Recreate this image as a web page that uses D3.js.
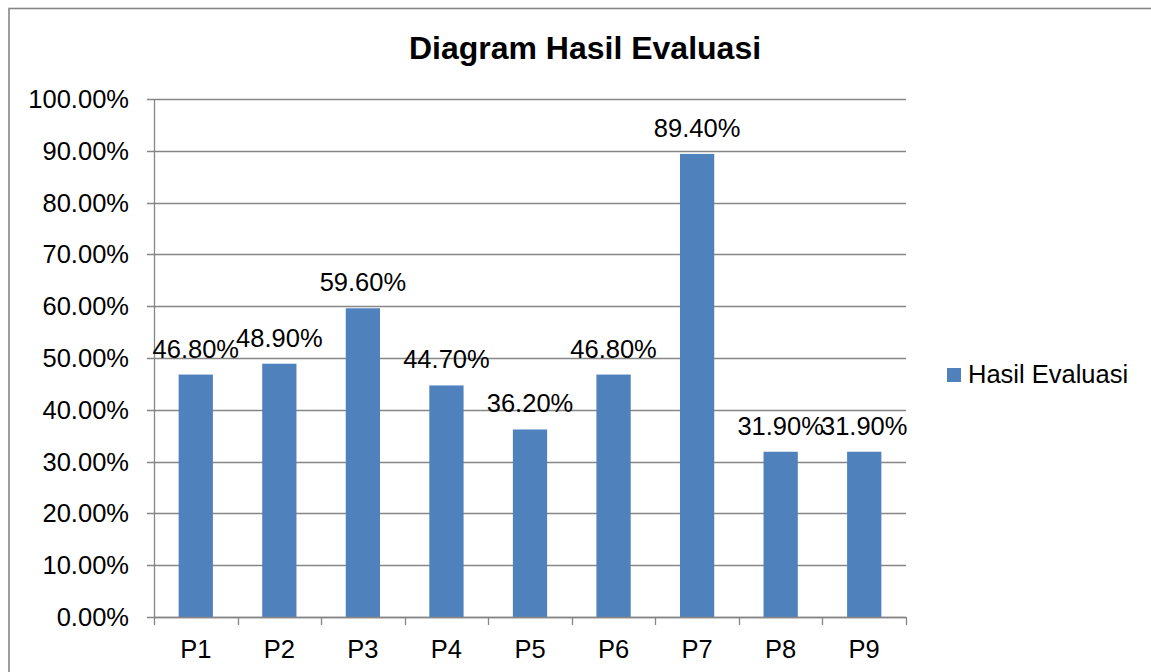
<!DOCTYPE html>
<head>
    <meta charset="utf-8">
    <script src="https://d3js.org/d3.v7.min.js"></script>
    <style>
        body { margin: 0; background: #fff; }
        text { font-family: "Liberation Sans", Arial, sans-serif; fill: #000; }
    </style>
</head>
<body>
    <svg id="chart" width="1151" height="672"></svg>
    <script>
        // data
        var categories = ["P1", "P2", "P3", "P4", "P5", "P6", "P7", "P8", "P9"];
        var values = [0.468, 0.489, 0.596, 0.447, 0.362, 0.468, 0.894, 0.319, 0.319];
        var yTicks = [0, 0.1, 0.2, 0.3, 0.4, 0.5, 0.6, 0.7, 0.8, 0.9, 1.0];
        var seriesName = "Hasil Evaluasi";
        var title = "Diagram Hasil Evaluasi";

        var svg = d3.select("#chart");
        var barColor = "#4f81bd";
        var lineColor = "#868686";
        var fmt = d3.format(".2%");

        // plot area (window.top is reserved, so plain names are prefixed)
        var plotLeft = 154, plotRight = 906, plotTop = 99, plotBottom = 617;

        var x = d3.scaleBand()
            .domain(categories)
            .range([plotLeft, plotRight])
            .padding(0);

        var y = d3.scaleLinear()
            .domain([0, 1])
            .range([plotBottom, plotTop]);

        // outer border of the chart area
        svg.append("rect")
            .attr("x", 9)
            .attr("y", 8.5)
            .attr("width", 1200)
            .attr("height", 700)
            .style("fill", "none")
            .style("stroke", lineColor)
            .style("stroke-width", 1.6);

        // title
        svg.append("text")
            .attr("x", 585)
            .attr("y", 59)
            .attr("text-anchor", "middle")
            .style("font-size", "32px")
            .style("font-weight", "bold")
            .text(title);

        // gridlines + y ticks
        var grid = svg.append("g");
        grid.selectAll("line")
            .data(yTicks)
            .enter().append("line")
            .attr("x1", plotLeft - 7)
            .attr("x2", plotRight)
            .attr("y1", function (d) { return Math.round(y(d)) + 0.5; })
            .attr("y2", function (d) { return Math.round(y(d)) + 0.5; })
            .style("stroke", lineColor)
            .style("stroke-width", 1.3);

        grid.selectAll("text")
            .data(yTicks)
            .enter().append("text")
            .attr("x", 129)
            .attr("y", function (d) { return y(d); })
            .attr("dy", "0.35em")
            .attr("text-anchor", "end")
            .style("font-size", "25.5px")
            .text(function (d) { return fmt(d); });

        // y axis line
        svg.append("line")
            .attr("x1", plotLeft + 0.5).attr("x2", plotLeft + 0.5)
            .attr("y1", plotTop).attr("y2", plotBottom + 1)
            .style("stroke", lineColor)
            .style("stroke-width", 1.3);

        // x axis ticks at category boundaries
        var bounds = categories.map(function (c) { return x(c); }).concat([plotRight]);
        svg.append("g").selectAll("line")
            .data(bounds)
            .enter().append("line")
            .attr("x1", function (d) { return Math.round(d) + 0.5; })
            .attr("x2", function (d) { return Math.round(d) + 0.5; })
            .attr("y1", plotBottom)
            .attr("y2", plotBottom + 8)
            .style("stroke", lineColor)
            .style("stroke-width", 1.3);

        // bars
        var barW = x.bandwidth() * 0.41;
        svg.append("g").selectAll("rect")
            .data(values)
            .enter().append("rect")
            .attr("x", function (d, i) { return x(categories[i]) + (x.bandwidth() - barW) / 2; })
            .attr("y", function (d) { return y(d); })
            .attr("width", barW)
            .attr("height", function (d) { return plotBottom - y(d); })
            .style("fill", barColor);

        // x axis line (over the bars' base)
        svg.append("line")
            .attr("x1", plotLeft).attr("x2", plotRight)
            .attr("y1", plotBottom + 0.5).attr("y2", plotBottom + 0.5)
            .style("stroke", lineColor)
            .style("stroke-width", 1.3);

        // value labels
        svg.append("g").selectAll("text")
            .data(values)
            .enter().append("text")
            .attr("x", function (d, i) { return x(categories[i]) + x.bandwidth() / 2; })
            .attr("y", function (d) { return y(d) - 17; })
            .attr("text-anchor", "middle")
            .style("font-size", "25.5px")
            .text(function (d) { return fmt(d); });

        // category labels
        svg.append("g").selectAll("text")
            .data(categories)
            .enter().append("text")
            .attr("x", function (d) { return x(d) + x.bandwidth() / 2; })
            .attr("y", 658)
            .attr("text-anchor", "middle")
            .style("font-size", "25.5px")
            .text(function (d) { return d; });

        // legend
        var legend = svg.append("g").attr("transform", "translate(947,368)");
        legend.append("rect")
            .attr("width", 14)
            .attr("height", 14)
            .style("fill", barColor);
        legend.append("text")
            .attr("x", 21)
            .attr("y", 15)
            .style("font-size", "25.5px")
            .text(seriesName);
    </script>
</body>
